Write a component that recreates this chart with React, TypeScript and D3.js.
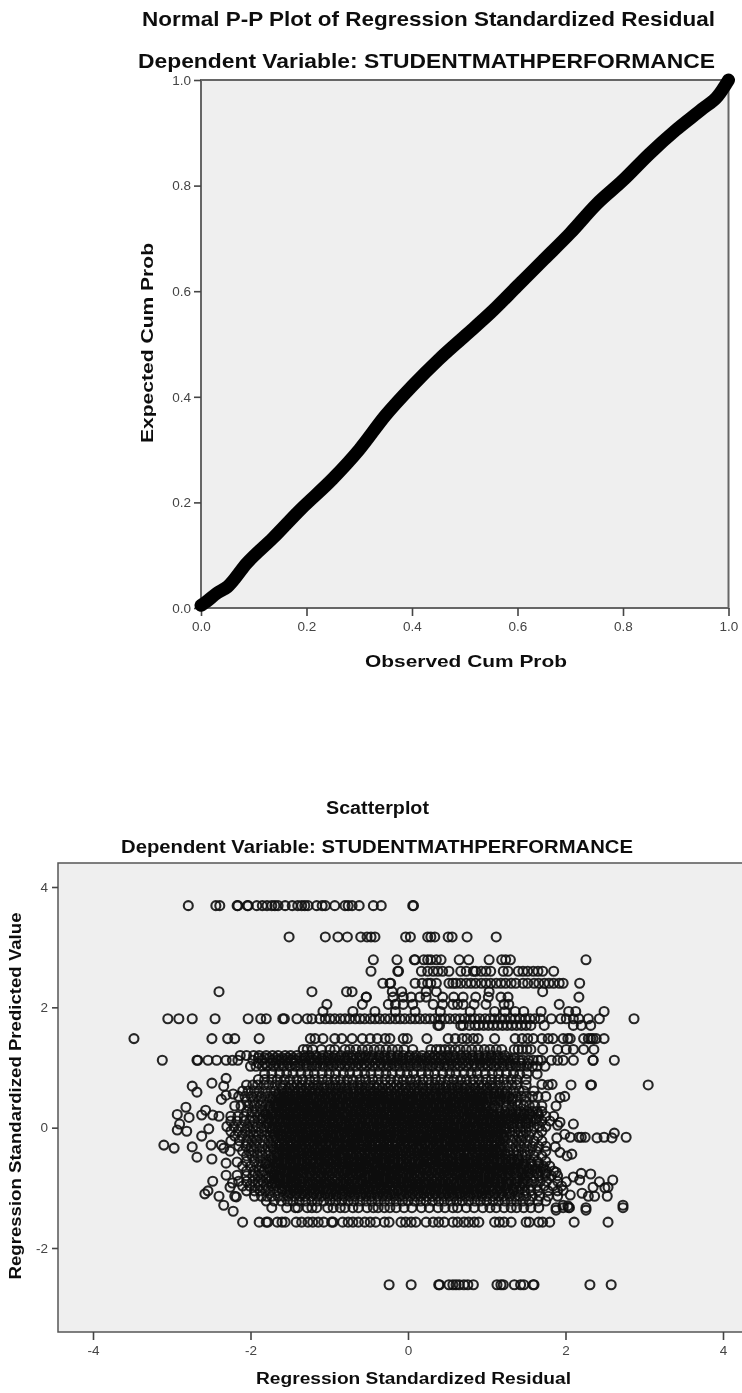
import React, { useEffect, useRef } from 'react';
import * as d3 from 'd3';

const WIDTH = 742;
const HEIGHT = 1393;
const FONT = '"Liberation Sans", Arial, sans-serif';

// P-P plot
const observedProb = [0, 0.01, 0.03, 0.05, 0.087, 0.137, 0.188, 0.25, 0.3, 0.35, 0.4, 0.45, 0.5, 0.55, 0.6, 0.65, 0.7, 0.75, 0.8, 0.85, 0.9, 0.95, 0.98, 1];
const expectedProb = [0.005, 0.012, 0.028, 0.04, 0.085, 0.133, 0.186, 0.245, 0.3, 0.365, 0.42, 0.47, 0.515, 0.56, 0.61, 0.66, 0.71, 0.765, 0.81, 0.86, 0.905, 0.945, 0.97, 1];
const probTicks = [0, 0.2, 0.4, 0.6, 0.8, 1];

const residualTicks = [-4, -2, 0, 2, 4];
const predictedTicks = [-2, 0, 2, 4];

// scatter values are in hundredths: predicted level of each row, then the residuals on that row
const predictedLevels = [369, 317, 279, 260, 240, 226, 217, 205, 193, 181, 170, 148, 130, 120, 112, 102, 90, 80, 71, 61, 52, 44, 36, 27, 19, 11, 2, -6, -14, -22, -31, -39, -47, -56, -64, -72, -80, -89, -97, -105, -114, -122, -133, -157, -261,
  116, 107, 66, 56, 48, 40, 32, 23, 15, 7, -2, -10, -18, -27, -36, -43, -52, -60, -68, -76, -85, -93, -102, -110];

const residualRows = [
  [-279, -244, -239, -217, -216, -204, -203, -192, -185, -179, -173, -169, -165, -156, -147, -140, -135, -131, -127, -116, -109, -105, -93, -80, -76, -71, -62, -44, -34, 6, 7],
  [-151, -105, -89, -77, -60, -52, -47, -42, -3, 3, 25, 29, 34, 51, 56, 75, 112],
  [-44, -14, 8, 9, 20, 25, 29, 36, 42, 65, 77, 103, 119, 124, 130, 226],
  [-47, -13, -12, 17, 25, 32, 38, 44, 52, 67, 74, 83, 86, 93, 99, 105, 121, 127, 140, 146, 152, 159, 165, 171, 185],
  [-32, -23, -22, 9, 18, 25, 29, 36, 52, 57, 61, 67, 74, 80, 86, 93, 99, 105, 112, 118, 124, 131, 137, 146, 152, 160, 166, 173, 179, 185, 192, 197, 218],
  [-240, -122, -78, -71, -20, -8, 23, 36, 103, 171],
  [-53, -53, -19, -6, 4, 15, 23, 44, 58, 70, 86, 102, 118, 127, 217],
  [-103, -58, -25, -16, -6, 6, 32, 44, 57, 63, 70, 84, 99, 122, 128, 192],
  [-108, -70, -42, -16, 9, 41, 79, 110, 123, 136, 147, 169, 204, 213, 249],
  [-305, -291, -274, -245, -203, -187, -180, -159, -157, -141, -128, -122, -112, -105, -99, -93, -86, -80, -74, -67, -61, -55, -48, -42, -36, -29, -23, -16, -10, -4, 3, 9, 15, 22, 28, 34, 41, 47, 53, 60, 66, 72, 79, 85, 91, 98, 104, 110, 117, 123, 130, 136, 142, 149, 155, 161, 168, 182, 194, 201, 210, 217, 229, 243, 287],
  [38, 40, 67, 70, 78, 85, 90, 96, 102, 108, 114, 120, 126, 132, 138, 144, 150, 156, 173, 210, 220, 232],
  [-348, -249, -229, -220, -189, -124, -118, -108, -93, -84, -71, -58, -48, -39, -29, -23, -6, -1, 24, 51, 60, 69, 75, 83, 89, 110, 136, 145, 152, 159, 170, 178, 184, 197, 203, 206, 223, 229, 232, 235, 239, 249],
  [-133, -128, -121, -110, -99, -93, -80, -74, -66, -58, -51, -43, -36, -28, -20, -13, -5, 6, 29, 36, 41, 47, 53, 60, 66, 74, 81, 89, 97, 104, 112, 119, 135, 140, 145, 151, 156, 171, 190, 201, 210, 223, 236],
  [-213, -205, -196, -189, -180, -172, -165, -156, -149, -141, -132, -125, -117, -108, -101, -93, -85, -77, -70, -61, -54, -46, -37, -30, -22, -13, -6, 2, 10, 18, 27, 34, 42, 50, 58, 67, 74, 82, 90, 99, 106, 114, 123],
  [-312, -268, -267, -254, -243, -231, -223, -216, -197, -185, -173, -167, -161, -154, -148, -143, -136, -130, -124, -119, -112, -106, -100, -94, -88, -81, -76, -69, -63, -58, -51, -45, -39, -32, -27, -20, -14, -8, -2, 4, 11, 16, 23, 29, 35, 42, 47, 54, 60, 66, 72, 79, 84, 91, 97, 103, 110, 115, 122, 128, 134, 141, 146, 153, 159, 165, 169, 182, 190, 197, 210, 235, 235, 262],
  [-200, -193, -185, -179, -171, -164, -158, -150, -143, -137, -129, -122, -116, -108, -101, -95, -87, -80, -74, -66, -59, -53, -45, -38, -31, -25, -17, -11, -3, 3, 11, 17, 25, 31, 39, 46, 52, 60, 66, 74, 81, 87, 95, 101, 109, 116, 122, 130, 137, 143, 151, 158, 164, 174],
  [-182, -173, -163, -154, -146, -136, -127, -119, -109, -100, -92, -82, -74, -64, -55, -47, -37, -28, -20, -10, -1, 7, 17, 26, 34, 44, 53, 61, 71, 80, 88, 98, 107, 115, 125, 134],
  [-190, -182, -173, -166, -157, -150, -141, -134, -125, -118, -109, -102, -93, -86, -77, -70, -61, -54, -45, -38, -29, -22, -13, -6, 3, 10, 19, 26, 35, 42, 51, 58, 67, 74, 83, 90, 99, 106, 115, 122, 131, 138, 150],
  [-205, -197, -191, -183, -177, -169, -162, -156, -148, -141, -135, -127, -120, -114, -106, -99, -92, -85, -79, -71, -64, -58, -50, -43, -37, -29, -22, -15, -8, -2, 6, 13, 19, 27, 34, 40, 48, 55, 62, 69, 75, 83, 90, 96, 104, 111, 117, 125, 132, 138, 150],
  [-210, -203, -195, -189, -181, -174, -168, -160, -153, -146, -139, -133, -125, -118, -112, -104, -97, -90, -83, -77, -69, -62, -55, -48, -42, -34, -27, -21, -13, -6, 1, 8, 14, 22, 29, 35, 43, 50, 57, 64, 70, 78, 85, 91, 99, 106, 113, 120, 126, 134, 141, 147, 160],
  [-215, -207, -199, -192, -186, -178, -171, -164, -157, -151, -143, -136, -129, -122, -116, -108, -101, -95, -87, -80, -73, -66, -60, -52, -45, -38, -31, -25, -17, -10, -4, 4, 11, 17, 25, 32, 39, 46, 52, 60, 67, 73, 81, 88, 94, 102, 109, 116, 123, 129, 137, 144, 150, 158, 165, 175],
  [-205, -197, -190, -184, -176, -169, -162, -155, -149, -141, -134, -128, -120, -113, -106, -99, -93, -85, -78, -72, -64, -57, -50, -43, -37, -29, -22, -16, -8, -1, 5, 13, 20, 27, 34, 40, 48, 55, 61, 69, 76, 83, 90, 96, 104, 111, 117, 125, 132, 138, 150],
  [-220, -212, -203, -195, -188, -181, -175, -167, -160, -154, -146, -139, -132, -125, -119, -111, -104, -98, -90, -83, -76, -69, -63, -55, -48, -42, -34, -27, -20, -13, -7, 1, 8, 14, 22, 29, 36, 43, 49, 57, 64, 70, 78, 85, 92, 99, 110, 125, 132, 139, 147, 154, 161, 170],
  [-205, -198, -192, -185, -178, -172, -164, -157, -150, -143, -137, -129, -122, -116, -108, -101, -94, -87, -81, -73, -66, -60, -52, -45, -38, -31, -25, -17, -10, -4, 4, 11, 18, 25, 31, 39, 46, 52, 60, 67, 74, 81, 87, 95, 102, 108, 116, 123, 130, 137, 143, 151, 158, 164, 170],
  [-240, -225, -216, -208, -199, -191, -184, -178, -170, -163, -156, -149, -143, -135, -128, -122, -114, -107, -100, -93, -87, -79, -72, -66, -58, -51, -44, -37, -31, -23, -16, -10, -2, 5, 12, 19, 25, 33, 40, 46, 54, 61, 68, 75, 81, 89, 96, 102, 110, 117, 124, 131, 137, 145, 152, 158, 166, 175, 185],
  [-225, -217, -208, -201, -195, -187, -180, -173, -166, -160, -152, -145, -139, -131, -124, -117, -110, -104, -96, -89, -83, -75, -68, -61, -54, -48, -40, -33, -27, -19, -12, -5, 2, 8, 16, 23, 29, 37, 44, 51, 58, 64, 72, 79, 85, 93, 100, 107, 114, 120, 128, 135, 141, 149, 156, 163, 170, 180],
  [-230, -221, -212, -204, -197, -191, -183, -176, -169, -162, -156, -148, -141, -135, -127, -120, -113, -106, -100, -92, -85, -79, -71, -64, -57, -50, -44, -36, -29, -23, -15, -8, -1, 6, 12, 20, 27, 33, 41, 48, 55, 62, 68, 76, 83, 89, 97, 104, 111, 118, 124, 132, 139, 145, 153, 160, 167, 175],
  [-225, -216, -207, -200, -193, -186, -179, -172, -165, -158, -151, -144, -137, -130, -123, -116, -109, -102, -95, -88, -81, -74, -67, -60, -53, -46, -39, -32, -25, -18, -11, -4, 3, 10, 17, 24, 31, 38, 45, 52, 59, 66, 73, 80, 87, 94, 101, 108, 115, 122, 129, 136, 143, 150, 157, 170],
  [-220, -211, -203, -196, -190, -182, -175, -169, -161, -154, -148, -140, -133, -127, -119, -112, -106, -98, -91, -85, -77, -70, -64, -56, -49, -43, -35, -28, -22, -14, -7, -1, 7, 14, 20, 28, 35, 41, 49, 56, 62, 70, 77, 83, 91, 98, 104, 112, 119, 125, 133, 140, 146, 154, 165],
  [-225, -214, -205, -198, -192, -184, -177, -171, -163, -156, -150, -142, -135, -129, -121, -114, -108, -100, -93, -87, -79, -72, -66, -58, -51, -45, -37, -30, -24, -16, -9, -3, 5, 12, 18, 26, 33, 39, 47, 54, 60, 68, 75, 81, 89, 96, 102, 110, 117, 123, 131, 138, 144, 152, 160, 170],
  [-215, -206, -199, -193, -185, -178, -172, -164, -157, -151, -143, -136, -130, -122, -115, -109, -101, -94, -88, -80, -73, -67, -59, -52, -46, -38, -31, -25, -17, -10, -4, 4, 11, 17, 25, 32, 38, 46, 53, 59, 67, 74, 80, 88, 95, 101, 109, 116, 122, 130, 137, 143, 151, 158, 166, 175],
  [-210, -202, -196, -188, -181, -175, -167, -160, -154, -146, -139, -133, -125, -118, -112, -104, -97, -91, -83, -76, -70, -62, -55, -49, -41, -34, -28, -20, -13, -7, 1, 8, 14, 22, 29, 35, 43, 50, 56, 64, 71, 77, 85, 92, 98, 106, 113, 119, 127, 134, 140, 148, 155, 163, 175],
  [-205, -198, -191, -185, -177, -170, -164, -156, -149, -143, -135, -128, -122, -114, -107, -101, -93, -86, -80, -72, -65, -59, -51, -44, -38, -30, -23, -17, -9, -2, 4, 12, 19, 25, 33, 40, 46, 54, 61, 67, 75, 82, 88, 96, 103, 109, 117, 124, 130, 138, 145, 151, 160, 170],
  [-205, -195, -187, -180, -174, -166, -159, -153, -145, -138, -132, -124, -117, -111, -103, -96, -90, -82, -75, -69, -61, -54, -48, -40, -33, -27, -19, -12, -6, 2, 9, 15, 23, 30, 36, 44, 51, 57, 65, 72, 78, 86, 93, 99, 107, 114, 120, 128, 135, 141, 149, 156, 164, 175],
  [-210, -200, -192, -186, -178, -171, -165, -157, -150, -144, -136, -129, -123, -115, -108, -102, -94, -87, -81, -73, -66, -60, -52, -45, -39, -31, -24, -18, -10, -3, 3, 11, 18, 24, 32, 39, 45, 53, 60, 66, 74, 81, 87, 95, 102, 108, 116, 123, 129, 137, 144, 150, 158, 165, 172, 180],
  [-205, -196, -189, -183, -175, -168, -162, -154, -147, -141, -133, -126, -120, -112, -105, -99, -91, -84, -78, -70, -63, -57, -49, -42, -36, -28, -21, -15, -7, 0, 6, 14, 21, 27, 35, 42, 48, 56, 63, 69, 77, 84, 90, 98, 105, 111, 119, 126, 132, 140, 147, 153, 161, 168, 176, 185],
  [-205, -197, -191, -184, -177, -170, -164, -156, -149, -143, -135, -128, -122, -114, -107, -101, -93, -86, -80, -72, -65, -59, -51, -44, -38, -30, -23, -17, -9, -2, 4, 12, 19, 25, 33, 40, 46, 54, 61, 67, 75, 82, 88, 96, 103, 109, 117, 124, 130, 138, 145, 151, 159, 166, 174, 182, 190],
  [-215, -205, -197, -190, -184, -176, -169, -163, -155, -148, -142, -134, -127, -121, -113, -106, -100, -92, -85, -79, -71, -64, -58, -50, -43, -37, -29, -22, -16, -8, -1, 5, 13, 20, 26, 34, 41, 47, 55, 62, 68, 76, 83, 89, 97, 104, 110, 118, 125, 131, 139, 146, 152, 160, 168, 176, 190],
  [-210, -201, -194, -188, -180, -173, -167, -159, -152, -146, -138, -131, -125, -117, -110, -104, -96, -89, -83, -75, -68, -62, -54, -47, -41, -33, -26, -20, -12, -5, 1, 9, 16, 22, 30, 37, 43, 51, 58, 64, 72, 79, 85, 93, 100, 106, 114, 121, 127, 135, 142, 148, 156, 164, 173, 184, 195],
  [-205, -195, -188, -181, -175, -167, -160, -154, -146, -139, -133, -125, -118, -112, -104, -97, -91, -83, -76, -70, -62, -55, -49, -41, -34, -28, -20, -13, -7, 1, 8, 14, 22, 29, 35, 43, 50, 56, 64, 71, 77, 85, 92, 98, 106, 113, 119, 127, 134, 140, 148, 156, 165, 178, 190],
  [-195, -186, -179, -173, -165, -158, -152, -144, -137, -131, -123, -116, -110, -102, -95, -89, -81, -74, -68, -60, -53, -47, -39, -32, -26, -18, -11, -5, 3, 10, 16, 24, 31, 37, 45, 52, 58, 66, 73, 79, 87, 94, 100, 108, 115, 121, 129, 136, 142, 150, 158, 167, 178, 190],
  [-180, -170, -161, -153, -146, -138, -130, -122, -115, -107, -99, -92, -84, -76, -69, -61, -53, -46, -38, -30, -23, -15, -7, 0, 8, 16, 23, 31, 39, 46, 54, 62, 69, 77, 85, 92, 100, 108, 115, 123, 131, 138, 146, 154, 165, 175],
  [-173, -154, -143, -140, -128, -122, -116, -102, -95, -86, -80, -70, -63, -52, -44, -38, -30, -23, -15, -5, 5, 17, 27, 38, 47, 57, 63, 74, 84, 95, 104, 112, 122, 131, 138, 147, 156, 166, 188, 197, 204, 205, 226, 273],
  [-210, -189, -180, -178, -166, -160, -156, -142, -135, -127, -121, -114, -107, -97, -95, -83, -76, -70, -63, -55, -48, -41, -30, -24, -9, -3, 4, 10, 23, 32, 39, 46, 57, 63, 71, 77, 84, 90, 110, 116, 122, 131, 150, 154, 166, 171, 180, 211, 254],
  [-24, 4, 39, 40, 52, 57, 61, 65, 71, 76, 83, 113, 118, 121, 135, 143, 147, 159, 160, 231, 258],
  // second pass over the black core and the upper band
  [-190, -182, -176, -168, -160, -153, -146, -138, -131, -123, -116, -110, -102, -95, -87, -80, -72, -65, -58, -50, -44, -36, -29, -21, -14, -7, 1, 8, 16, 23, 31, 38, 45, 53, 60, 68, 75, 82, 90, 97, 105, 112, 120, 127, 135],
  [-190, -181, -174, -167, -159, -152, -144, -137, -130, -122, -115, -108, -100, -93, -85, -78, -71, -63, -56, -49, -41, -34, -26, -19, -12, -4, 3, 10, 18, 25, 33, 40, 47, 55, 62, 69, 77, 84, 92, 99, 106, 114, 121, 129, 136, 144, 152],
  [-160, -151, -144, -136, -129, -121, -114, -107, -99, -92, -85, -77, -70, -62, -55, -48, -40, -33, -25, -18, -11, -3, 4, 11, 19, 26, 34, 41, 48, 56, 63, 71, 78, 85, 93, 100, 108],
  [-165, -158, -150, -143, -135, -128, -121, -113, -106, -99, -91, -84, -76, -69, -62, -54, -47, -39, -32, -25, -17, -10, -2, 5, 12, 20, 27, 35, 42, 49, 57, 64, 72, 79, 86, 94, 101, 109, 116, 123],
  [-172, -164, -157, -149, -142, -135, -127, -120, -112, -105, -98, -90, -83, -75, -68, -61, -53, -46, -38, -31, -24, -16, -9, -1, 6, 13, 21, 28, 36, 43, 50, 58, 65, 73, 80, 87, 95, 102, 110, 117, 124, 132],
  [-168, -161, -153, -146, -138, -131, -124, -116, -109, -101, -94, -87, -79, -72, -64, -57, -50, -42, -35, -27, -20, -13, -5, 2, 10, 17, 24, 32, 39, 47, 54, 61, 69, 76, 84, 91, 98],
  [-175, -167, -160, -152, -145, -138, -130, -123, -115, -108, -101, -93, -86, -78, -71, -64, -56, -49, -41, -34, -27, -19, -12, -4, 3, 10, 18, 25, 33, 40, 47, 55, 62, 70, 77, 84, 92, 99, 107, 114],
  [-180, -172, -164, -157, -150, -142, -135, -127, -120, -113, -105, -98, -90, -83, -76, -68, -61, -53, -46, -39, -31, -24, -16, -9, -2, 6, 13, 21, 28, 35, 43, 50, 58, 65, 72, 80, 87, 95, 102, 109, 117, 124, 132, 139, 147, 155, 165],
  [-185, -177, -169, -162, -154, -147, -139, -132, -125, -117, -110, -102, -95, -88, -80, -73, -65, -58, -51, -43, -36, -28, -21, -14, -6, 1, 9, 16, 23, 31, 38, 46, 53, 60, 68, 75, 83, 90, 97, 105, 112, 120, 127, 135, 143, 152, 162],
  [-178, -170, -163, -155, -148, -141, -133, -126, -118, -111, -104, -96, -89, -81, -74, -67, -59, -52, -44, -37, -30, -22, -15, -7, 0, 7, 15, 22, 30, 37, 44, 52, 59, 67, 74, 81, 89, 96, 104, 111, 118, 126, 133, 142, 150],
  [-172, -165, -157, -150, -143, -135, -128, -120, -113, -106, -98, -91, -83, -76, -69, -61, -54, -46, -39, -32, -24, -17, -9, -2, 5, 13, 20, 28, 35, 42, 50, 57, 65, 72, 79, 87, 94, 102, 109, 116, 124],
  [-170, -162, -155, -147, -140, -133, -125, -118, -110, -103, -96, -88, -81, -73, -66, -59, -51, -44, -36, -29, -22, -14, -7, 1, 8, 15, 23, 30, 38, 45, 52, 60, 67, 75, 82, 89, 97, 104, 112, 119],
  [-168, -160, -153, -145, -138, -131, -123, -116, -108, -101, -94, -86, -79, -71, -64, -57, -49, -42, -34, -27, -20, -12, -5, 3, 10, 17, 25, 32, 40, 47, 54, 62, 69, 77, 84, 91, 99, 106, 114, 121],
  [-164, -157, -149, -142, -135, -127, -120, -112, -105, -98, -90, -83, -75, -68, -61, -53, -46, -38, -31, -24, -16, -9, -1, 6, 13, 21, 28, 36, 43, 50, 58, 65, 73, 80, 87, 95, 102, 110, 117],
  [-170, -163, -155, -148, -141, -133, -126, -118, -111, -104, -96, -89, -81, -74, -67, -59, -52, -44, -37, -30, -22, -15, -7, 0, 7, 15, 22, 30, 37, 44, 52, 59, 67, 74, 81, 89, 96, 104, 111, 118],
  [-166, -158, -151, -144, -136, -129, -121, -114, -107, -99, -92, -84, -77, -70, -62, -55, -47, -40, -33, -25, -18, -10, -3, 4, 12, 19, 27, 34, 41, 49, 56, 64, 71, 78, 86, 93, 101, 108, 115, 123],
  [-172, -165, -157, -150, -142, -135, -128, -120, -113, -105, -98, -91, -83, -76, -68, -61, -54, -46, -39, -31, -24, -17, -9, -2, 6, 13, 20, 28, 35, 43, 50, 57, 65, 72, 80, 87, 94, 102, 109, 117, 124, 132, 140],
  [-180, -172, -165, -157, -150, -143, -135, -128, -120, -113, -106, -98, -91, -83, -76, -69, -61, -54, -46, -39, -32, -24, -17, -9, -2, 5, 13, 20, 28, 35, 42, 50, 57, 65, 72, 79, 87, 94, 102, 109, 116, 124, 131, 139, 147, 156, 166],
  [-176, -168, -161, -153, -146, -139, -131, -124, -116, -109, -102, -94, -87, -79, -72, -65, -57, -50, -42, -35, -28, -20, -13, -5, 2, 9, 17, 24, 32, 39, 46, 54, 61, 69, 76, 83, 91, 98, 106, 113, 120, 128, 135, 144, 153, 163, 172],
  [-170, -162, -155, -147, -140, -133, -125, -118, -110, -103, -96, -88, -81, -73, -66, -59, -51, -44, -36, -29, -22, -14, -7, 1, 8, 15, 23, 30, 38, 45, 52, 60, 67, 75, 82, 89, 97, 104, 112, 119, 127, 136, 145, 154, 164, 175],
  [-178, -170, -163, -155, -148, -141, -133, -126, -118, -111, -104, -96, -89, -81, -74, -67, -59, -52, -44, -37, -30, -22, -15, -7, 0, 7, 15, 22, 30, 37, 44, 52, 59, 67, 74, 81, 89, 96, 104, 111, 119, 128, 137, 147],
  [-172, -164, -157, -150, -142, -135, -127, -120, -113, -105, -98, -90, -83, -76, -68, -61, -53, -46, -39, -31, -24, -16, -9, -2, 6, 13, 21, 28, 35, 43, 50, 58, 65, 72, 80, 87, 95, 102, 110, 118, 127, 136, 146],
  [-160, -152, -145, -138, -130, -123, -115, -108, -101, -93, -86, -78, -71, -64, -56, -49, -41, -34, -27, -19, -12, -4, 3, 10, 18, 25, 33, 40, 47, 55, 62, 70, 77, 84, 92, 99, 107, 115, 124, 133, 142],
  [-150, -142, -135, -128, -120, -113, -105, -98, -91, -83, -76, -68, -61, -54, -46, -39, -31, -24, -17, -9, -2, 6, 13, 20, 28, 35, 43, 50, 57, 65, 72, 80, 87, 94, 102, 110, 119, 128],
];

// points off the rows, at the edges of the cloud (hundredths, paired by index)
const strayResiduals = [-274, -249, -231, -234, -268, -237, -231, -222, -282, -293, -278, -257, -262, -248, -290, -293, -281, -253, -262, -310, -297, -274, -250, -268, -249, -237, -234, -226, -231, -217, -248, -231, -217, -254, -258, -240, -234, -222, -220, -218, -223, -226, 164, 151, 142, 207, 232, 233, 305, 183, 178, 170, 199, 193, 188, 210, 193, 190, 277, 262, 259, 249, 240, 225, 220, 217, 206, 199, 189, 208, 202, 187, 193, 220, 232, 260, 243, 210, 201, 218, 235, 250, 254, 188, 253, 237, 229, 221, 206, 197, 273, 226, 203, 197, 188];
const strayPredicted = [69, 74, 82, 69, 59, 47, 54, 56, 34, 22, 17, 29, 21, 21, 6, -4, -6, -2, -14, -29, -34, -32, -29, -49, -52, -29, -34, -39, -59, -57, -89, -79, -79, -105, -110, -114, -129, -139, -114, -115, -92, -99, 89, 90, 89, 71, 71, 71, 71, 72, 71, 72, 52, 50, 36, 6, 9, 4, -16, -9, -17, -16, -17, -16, -16, -16, -16, -11, -17, -44, -47, -32, -41, -76, -77, -87, -90, -82, -90, -87, -99, -100, -99, -74, -114, -114, -114, -109, -112, -104, -129, -137, -130, -129, -137];

export default function App() {
  const ref = useRef<SVGSVGElement | null>(null);

  useEffect(() => {
    const svg = d3.select(ref.current);
    svg.selectAll('*').remove();

    const defs = svg.append('defs');
    defs.append('filter').attr('id', 'soft').attr('x', 0).attr('y', 0).attr('width', 1).attr('height', 1)
      .append('feGaussianBlur').attr('stdDeviation', 0.4);

    const root = svg.append('g').attr('filter', 'url(#soft)');
    root.append('rect').attr('width', WIDTH).attr('height', HEIGHT).attr('fill', '#fff');

    const label = (
      text: string, x: number, y: number, size: number, length: number, rotate = false,
    ) => {
      root.append('text')
        .attr('transform', rotate ? `translate(${x},${y}) rotate(-90)` : `translate(${x},${y})`)
        .attr('text-anchor', 'middle')
        .attr('font-family', FONT)
        .attr('font-weight', 'bold')
        .attr('font-size', size)
        .attr('textLength', length)
        .attr('lengthAdjust', 'spacingAndGlyphs')
        .attr('fill', '#111')
        .text(text);
    };

    const styleAxis = (g: any) => {
      g.select('.domain').remove();
      g.selectAll('line').attr('stroke', '#444').attr('stroke-width', 1.6);
      g.selectAll('text').attr('font-family', FONT).attr('font-size', 13.5).attr('fill', '#444');
    };

    // P-P plot
    const ppX = d3.scaleLinear().domain([0, 1]).range([201, 728.5]);
    const ppY = d3.scaleLinear().domain([0, 1]).range([608, 80]);

    root.append('rect')
      .attr('x', 201).attr('y', 80).attr('width', 527.5).attr('height', 528)
      .attr('fill', '#efefef').attr('stroke', '#666').attr('stroke-width', 2);

    root.append('g').attr('transform', 'translate(201,0)')
      .call(d3.axisLeft(ppY).tickValues(probTicks).tickFormat(d3.format('.1f')).tickSize(7).tickPadding(3))
      .call(styleAxis);
    root.append('g').attr('transform', 'translate(0,608)')
      .call(d3.axisBottom(ppX).tickValues(probTicks).tickFormat(d3.format('.1f')).tickSize(8).tickPadding(5))
      .call(styleAxis);

    const ppLine = d3.line<number>()
      .x((d) => ppX(d))
      .y((_, i) => ppY(expectedProb[i]))
      .curve(d3.curveMonotoneX);

    root.append('path')
      .datum(observedProb)
      .attr('d', ppLine)
      .attr('fill', 'none')
      .attr('stroke', '#050505')
      .attr('stroke-width', 13)
      .attr('stroke-linecap', 'round')
      .attr('stroke-linejoin', 'round');

    label('Normal P-P Plot of Regression Standardized Residual', 428.5, 26, 21, 573);
    label('Dependent Variable: STUDENTMATHPERFORMANCE', 426.5, 68, 21, 577);
    label('Observed Cum Prob', 466, 667, 17, 202);
    label('Expected Cum Prob', 153, 343, 17, 200, true);

    // scatterplot
    const scX = d3.scaleLinear().domain([-4, 4]).range([93, 723]);
    const scY = d3.scaleLinear().domain([-2, 4]).range([1248, 887]);

    root.append('rect')
      .attr('x', 58).attr('y', 863).attr('width', WIDTH).attr('height', 469)
      .attr('fill', '#efefef').attr('stroke', '#555').attr('stroke-width', 1.5);

    root.append('g').attr('transform', 'translate(58,0)')
      .call(d3.axisLeft(scY).tickValues(predictedTicks).tickFormat((d) => String(d)).tickSize(6).tickPadding(4))
      .call(styleAxis);
    root.append('g').attr('transform', 'translate(0,1332)')
      .call(d3.axisBottom(scX).tickValues(residualTicks).tickFormat((d) => String(d)).tickSize(8).tickPadding(5))
      .call(styleAxis);

    const points: [number, number][] = residualRows.flatMap((row, i) =>
      row.map((r) => [r / 100, predictedLevels[i] / 100] as [number, number]),
    );
    strayResiduals.forEach((r, i) => points.push([r / 100, strayPredicted[i] / 100]));

    root.append('g')
      .selectAll('circle')
      .data(points)
      .join('circle')
      .attr('cx', (d) => scX(d[0]))
      .attr('cy', (d) => scY(d[1]))
      .attr('r', 4.5)
      .attr('fill', 'none')
      .attr('stroke', '#111')
      .attr('stroke-opacity', 0.9)
      .attr('stroke-width', 2.1);

    label('Scatterplot', 377.5, 814, 18, 103);
    label('Dependent Variable: STUDENTMATHPERFORMANCE', 377, 853, 19, 512);
    label('Regression Standardized Residual', 413.5, 1384, 16, 315);
    label('Regression Standardized Predicted Value', 21, 1096, 16, 367, true);
  }, []);

  return (
    <svg
      ref={ref}
      width={WIDTH}
      height={HEIGHT}
      style={{ position: 'absolute', left: 0, top: 0, display: 'block' }}
    />
  );
}
